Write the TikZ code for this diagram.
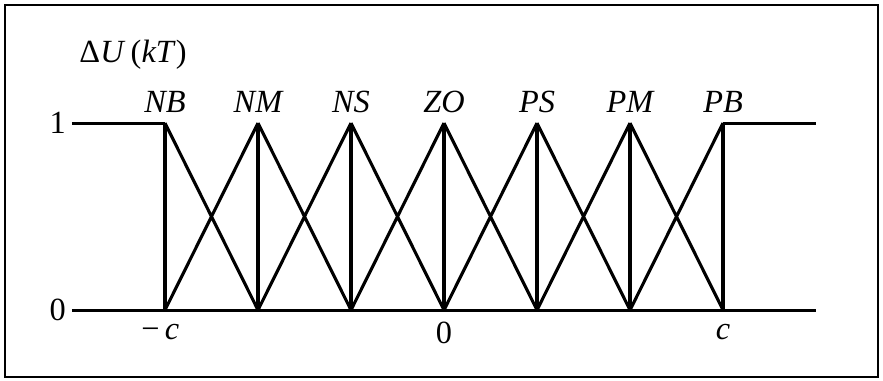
\documentclass[tikz,border=0pt]{standalone}
\usepackage{fontspec}
\setmainfont{Liberation Serif}
\begin{document}
\begin{tikzpicture}[x=2.325cm, y=4.675cm, line width=2.2pt,
	lbl/.style={font=\fontsize{23}{27}\selectfont\itshape},
	num/.style={font=\fontsize{23}{27}\selectfont}]
	\useasboundingbox (-4.774,-0.374) rectangle (4.720,1.658);
	\draw [line width=1.6pt] (-4.72,-0.358) rectangle (4.667,1.631);
	% peaks and their feet
	\foreach \n [count=\i from -3] in {NB,NM,NS,ZO,PS,PM,PB} {
		\coordinate (\n) at (\i,1);
		\coordinate (\n0) at (\i,0);
		\node [lbl, above=3pt] (\n lbl) at (\n) {\n};
		\draw (\n) -- (\n0);
	}
	\coordinate (left1) at (-4,1);
	\coordinate (left0) at (-4,0);
	\coordinate (right1) at (4,1);
	\coordinate (right0) at (4,0);
	\draw (left1) -- (NB);
	\draw (PB) -- (right1);
	\draw (left0) -- (right0);
	\foreach \a/\b in {NB/NM, NM/NS, NS/ZO, ZO/PS, PS/PM, PM/PB}
		\draw (\a) -- (\b0) (\a0) -- (\b);
	\node [num, left] (one) at (left1) {1};
	\node [num, left] (zero) at (left0) {0};
	\node [num] (ylbl) at (-3.344,1.364) {Δ\textit{U}\,(\textit{kT})};
	\node [num, below=6pt] (minc) at (-3.05,0) {−\,\textit{c}};
	\node [num, below=4pt] (mid) at (ZO0) {0};
	\node [num, below=6pt] (plusc) at (PB0) {\textit{c}};
	%\node at (0,1.5) {$\mu$};
\end{tikzpicture}
\end{document}
